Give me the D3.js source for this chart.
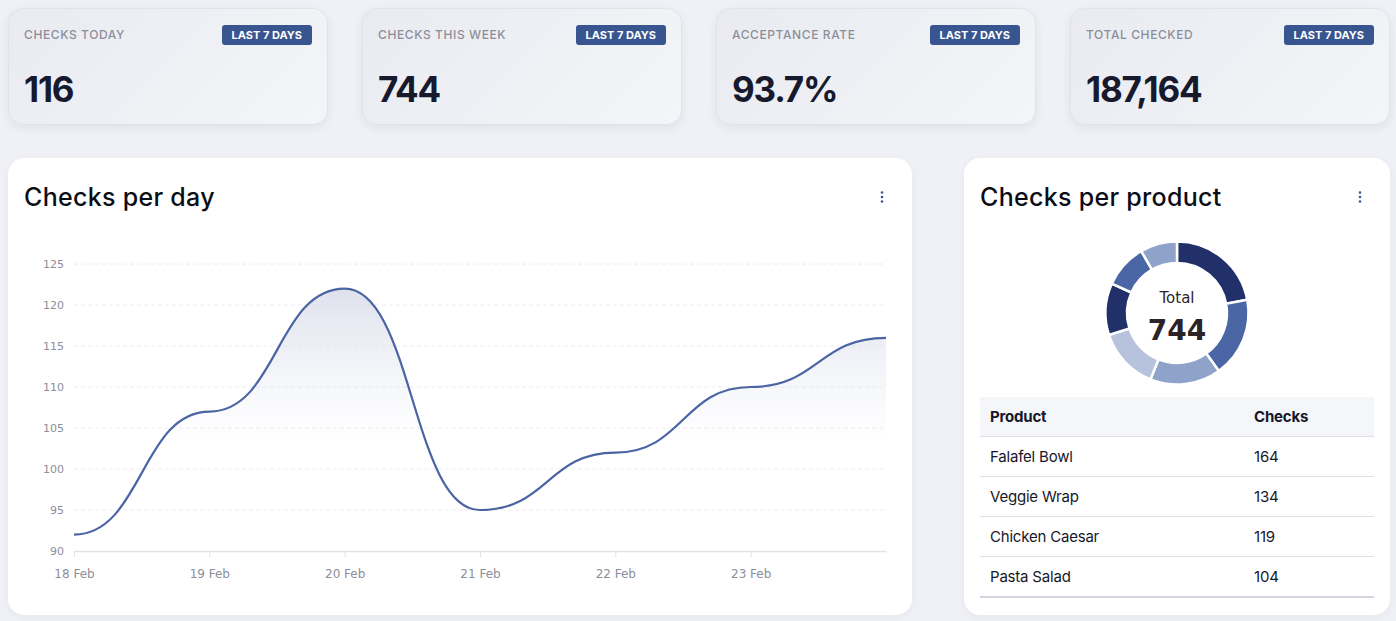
<!DOCTYPE html>
<html>
<head>
<meta charset="utf-8">
<script src="https://cdn.jsdelivr.net/npm/d3@7/dist/d3.min.js"></script>
<style>
  body { margin: 0; background: #f0f1f6; font-family: Inter, "Noto Sans", sans-serif; width: 1396px; height: 621px; overflow: hidden; position: relative; }
  .kpi { position: absolute; top: 8px; width: 320px; height: 117px; box-sizing: border-box; border-radius: 15px;
         background: linear-gradient(135deg, #eaebf1 0%, #f4f5f8 100%); border: 1px solid #e2e3ea;
         box-shadow: 0 3px 10px rgba(30,35,60,0.07); }
  .kpi .lbl { position: absolute; left: 15px; top: 18px; font-size: 12px; font-weight: 500; letter-spacing: 0.6px; color: #8b8e9a; }
  .kpi .badge { position: absolute; right: 15px; top: 16px; height: 20px; line-height: 20px; padding: 0 10px; border-radius: 3px;
         background: #39558f; color: #fff; font-size: 11px; font-weight: 700; }
  .kpi .val { position: absolute; left: 15px; top: 59px; font-size: 35px; font-weight: 700; color: #171a2d; letter-spacing: -1.2px; }
  .card { position: absolute; top: 158px; height: 457px; background: #fff; border-radius: 16px; box-shadow: 0 2px 8px rgba(30,35,60,0.05); }
  .card h2 { position: absolute; left: 16px; top: 24px; margin: 0; font-size: 25px; font-weight: 500; color: #0c0d14; letter-spacing: 0.3px; }
  svg.overlay { position: absolute; left: 0; top: 0; }
  table { position: absolute; left: 980px; top: 397px; width: 394px; border-collapse: collapse; font-size: 15px; color: #16182a; letter-spacing: -0.2px; }
  th { background: #f5f6fa; text-align: left; font-weight: 700; height: 39px; padding: 0 0 0 10px; border-bottom: 1px solid #dfe1e7; }
  td { height: 39px; padding: 0 0 0 10px; border-bottom: 1px solid #dfe1e7; }
  tr:last-child td { border-bottom: 2px solid #d2d5dd; }
</style>
</head>
<body>
<div id="kpis"></div>
<div class="card" style="left:8px;width:904px"><h2>Checks per day</h2></div>
<div class="card" style="left:964px;width:426px"><h2>Checks per product</h2></div>
<table id="tbl"></table>
<script>
// KPI cards
var kpiLabels = ["CHECKS TODAY", "CHECKS THIS WEEK", "ACCEPTANCE RATE", "TOTAL CHECKED"],
	kpiValues = ["116", "744", "93.7%", "187,164"],
	kpiLeft = [8, 362, 716, 1070];

// Checks per day
var days = ["18 Feb", "19 Feb", "20 Feb", "21 Feb", "22 Feb", "23 Feb", "24 Feb"],
	dayChecks = [92, 107, 122, 95, 102, 110, 116],
	xTickLabels = ["18 Feb", "19 Feb", "20 Feb", "21 Feb", "22 Feb", "23 Feb"],
	yTicks = [90, 95, 100, 105, 110, 115, 120, 125];

// Checks per product
var products = ["Falafel Bowl", "Veggie Wrap", "Chicken Caesar", "Pasta Salad", "Product 5", "Product 6", "Product 7"],
	productChecks = [164, 134, 119, 104, 87, 74, 62],
	tableRows = 4,
	sliceColors = ["#22306a", "#4a66a5", "#8ea2ca", "#b7c3dc"];

d3.select("#kpis").selectAll("div.kpi")
	.data(kpiLabels)
	.enter().append("div")
	.attr("class", "kpi")
	.style("left", function(d, i) { return kpiLeft[i] + "px"; })
	.each(function(d, i) {
		var c = d3.select(this);
		c.append("div").attr("class", "lbl").text(d);
		c.append("div").attr("class", "badge").text("LAST 7 DAYS");
		c.append("div").attr("class", "val").text(kpiValues[i]);
	});

var svg = d3.select("body").append("svg")
	.attr("class", "overlay")
	.attr("width", 1396)
	.attr("height", 621);

// kebab menus
[882, 1360].forEach(function(cx) {
	[192.5, 197, 201.5].forEach(function(cy) {
		svg.append("circle").attr("cx", cx).attr("cy", cy).attr("r", 1.3).attr("fill", "#3a5590");
	});
});

// line chart
var x = d3.scalePoint().domain(days).range([74, 886]),
	y = d3.scaleLinear().domain([90, 125]).range([551, 264]);

var defs = svg.append("defs");
var grad = defs.append("linearGradient")
	.attr("id", "areaGrad")
	.attr("gradientUnits", "userSpaceOnUse")
	.attr("x1", 0).attr("x2", 0)
	.attr("y1", y(122)).attr("y2", y(103));
grad.append("stop").attr("offset", "0%").attr("stop-color", "#c9cee0").attr("stop-opacity", 0.6);
grad.append("stop").attr("offset", "100%").attr("stop-color", "#dfe3f0").attr("stop-opacity", 0);

var grid = svg.append("g");
grid.selectAll("line")
	.data(yTicks.slice(1))
	.enter().append("line")
	.attr("x1", 74).attr("x2", 886)
	.attr("y1", function(d) { return y(d); })
	.attr("y2", function(d) { return y(d); })
	.attr("stroke", "#ececf0")
	.attr("stroke-dasharray", "4 3");

var pts = days.map(function(d, i) { return [d, dayChecks[i]]; });

svg.append("path")
	.datum(pts)
	.attr("fill", "url(#areaGrad)")
	.attr("d", d3.area()
		.curve(d3.curveBumpX)
		.x(function(d) { return x(d[0]); })
		.y0(y(90))
		.y1(function(d) { return y(d[1]); }));

var xAxis = svg.append("g")
	.attr("transform", "translate(0," + y(90) + ")")
	.call(d3.axisBottom(x).tickValues(xTickLabels).tickSize(6).tickSizeOuter(0).tickPadding(12));
xAxis.select(".domain").attr("stroke", "#e1e2e8").attr("stroke-width", 1.5);
xAxis.selectAll(".tick line").attr("stroke", "#e1e2e8");
xAxis.selectAll("text").attr("fill", "#8c8e9a").style("font-family", "'DejaVu Sans', sans-serif").style("font-size", "12px");

var yAxis = svg.append("g")
	.attr("transform", "translate(64,0)")
	.call(d3.axisLeft(y).tickValues(yTicks).tickSize(0).tickPadding(0));
yAxis.select(".domain").remove();
yAxis.selectAll("text").attr("fill", "#8c8e9a").style("font-family", "'DejaVu Sans', sans-serif").style("font-size", "11px");

svg.append("path")
	.datum(pts)
	.attr("fill", "none")
	.attr("stroke", "#4a64a4")
	.attr("stroke-width", 2.2)
	.attr("d", d3.line()
		.curve(d3.curveBumpX)
		.x(function(d) { return x(d[0]); })
		.y(function(d) { return y(d[1]); }));

// donut
var pie = d3.pie().sort(null).value(function(d) { return d; }),
	arc = d3.arc().innerRadius(50).outerRadius(71.5);

var donut = svg.append("g").attr("transform", "translate(1177,313)");
donut.selectAll("path")
	.data(pie(productChecks))
	.enter().append("path")
	.attr("d", arc)
	.attr("fill", function(d, i) { return sliceColors[i % sliceColors.length]; })
	.attr("stroke", "#fff")
	.attr("stroke-width", 2.5);

donut.append("text")
	.attr("text-anchor", "middle")
	.attr("y", -10)
	.attr("fill", "#2b2629")
	.style("font-family", "'DejaVu Sans', sans-serif")
	.style("font-size", "15px")
	.text("Total");
donut.append("text")
	.attr("text-anchor", "middle")
	.attr("y", 27)
	.attr("fill", "#2d2327")
	.style("font-family", "'DejaVu Sans', sans-serif")
	.style("font-weight", "bold")
	.style("font-size", "28px")
	.text(d3.sum(productChecks));

// table
var tbl = d3.select("#tbl");
var hr = tbl.append("tr");
hr.append("th").style("width", "254px").text("Product");
hr.append("th").text("Checks");
tbl.selectAll("tr.row")
	.data(products.slice(0, tableRows))
	.enter().append("tr")
	.attr("class", "row")
	.each(function(d, i) {
		d3.select(this).append("td").text(d);
		d3.select(this).append("td").text(productChecks[i]);
	});
</script>
</body>
</html>
